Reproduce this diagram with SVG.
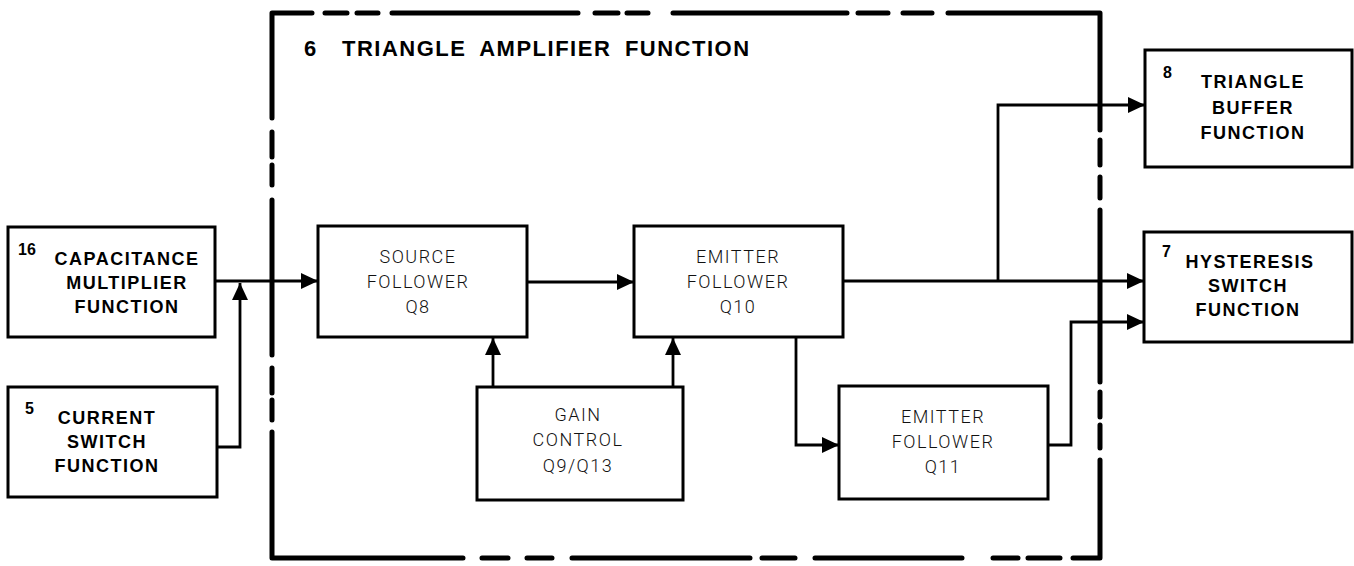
<svg xmlns="http://www.w3.org/2000/svg" width="1354" height="566" viewBox="0 0 1354 566">
<style>
.box{fill:#fff;stroke:#000;stroke-width:3}
.b{font-family:"Liberation Sans",Arial,sans-serif;font-weight:bold;font-size:18px;letter-spacing:1.5px;text-anchor:middle;fill:#000}
.n{font-family:"Liberation Sans",Arial,sans-serif;font-weight:bold;font-size:16px;fill:#000}
.l{font-family:Roboto,"Liberation Sans",Arial,sans-serif;font-weight:300;font-size:18px;letter-spacing:1.5px;text-anchor:middle;fill:#111}
.c{fill:none;stroke:#000;stroke-width:2.8}
.border{fill:none;stroke:#000;stroke-width:5;stroke-linecap:round}
.title{font-family:"Liberation Sans",Arial,sans-serif;font-weight:bold;font-size:22px;fill:#000}
</style>
<defs>
<marker id="ah" viewBox="0 0 17 16" refX="17" refY="8" markerWidth="17" markerHeight="16" markerUnits="userSpaceOnUse" orient="auto">
<path d="M0,0 L17,8 L0,16 z" fill="#000"/>
</marker>
</defs>
<rect width="1354" height="566" fill="#fff"/>
<g id="triangle-amplifier">
<path class="border" d="M272,13 V118 M272,132 V157 M272,165 V185 M272,200 V355 M272,368 V393 M272,400 V420 M272,432 V558
M1100,13 V130 M1100,140 V165 M1100,177 V198 M1100,210 V382 M1100,392 V417 M1100,425 V448 M1100,460 V558
M272,13 H312 M325,13 H347 M357,13 H378 M392,13 H578 M595,13 H618 M627,13 H648 M673,13 H847 M858,13 H888 M903,13 H932 M948,13 H1100
M272,558 H463 M482,558 H508 M527,558 H552 M572,558 H750 M762,558 H795 M815,558 H962 M993,558 H1018 M1028,558 H1060 M1073,558 H1100"/>
<text class="title" x="304" y="56">6</text>
<text class="title" x="342" y="56" style="letter-spacing:1.5px;word-spacing:6px">TRIANGLE AMPLIFIER FUNCTION</text>
</g>
<g id="capacitance-multiplier">
<rect class="box" x="8" y="227" width="207" height="110"/>
<text class="n" x="18" y="255">16</text>
<text class="b" x="127" y="265">CAPACITANCE</text>
<text class="b" x="127" y="289">MULTIPLIER</text>
<text class="b" x="127" y="313">FUNCTION</text>
</g>
<g id="current-switch">
<rect class="box" x="8" y="387" width="209" height="110"/>
<text class="n" x="25" y="414">5</text>
<text class="b" x="107" y="424">CURRENT</text>
<text class="b" x="107" y="448">SWITCH</text>
<text class="b" x="107" y="472">FUNCTION</text>
</g>
<g id="source-follower">
<rect class="box" x="318" y="226" width="209" height="111"/>
<text class="l" x="418" y="263">SOURCE</text>
<text class="l" x="418" y="288">FOLLOWER</text>
<text class="l" x="418" y="313">Q8</text>
</g>
<g id="emitter-follower-q10">
<rect class="box" x="634" y="226" width="209" height="111"/>
<text class="l" x="738" y="263">EMITTER</text>
<text class="l" x="738" y="288">FOLLOWER</text>
<text class="l" x="738" y="313">Q10</text>
</g>
<g id="gain-control">
<rect class="box" x="477" y="387" width="206" height="113"/>
<text class="l" x="578" y="421">GAIN</text>
<text class="l" x="578" y="446">CONTROL</text>
<text class="l" x="578" y="472">Q9/Q13</text>
</g>
<g id="emitter-follower-q11">
<rect class="box" x="839" y="386" width="209" height="113"/>
<text class="l" x="943" y="423">EMITTER</text>
<text class="l" x="943" y="448">FOLLOWER</text>
<text class="l" x="943" y="473">Q11</text>
</g>
<g id="triangle-buffer">
<rect class="box" x="1145" y="50" width="207" height="117"/>
<text class="n" x="1163" y="78">8</text>
<text class="b" x="1253" y="88">TRIANGLE</text>
<text class="b" x="1253" y="114">BUFFER</text>
<text class="b" x="1253" y="139">FUNCTION</text>
</g>
<g id="hysteresis-switch">
<rect class="box" x="1144" y="232" width="208" height="110"/>
<text class="n" x="1162" y="257">7</text>
<text class="b" x="1250" y="268">HYSTERESIS</text>
<text class="b" x="1248" y="292">SWITCH</text>
<text class="b" x="1248" y="316">FUNCTION</text>
</g>
<g id="connectors">
<path class="c" d="M215,281 H318" marker-end="url(#ah)"/>
<path class="c" d="M217,447 H240 V283" marker-end="url(#ah)"/>
<path class="c" d="M527,282 H634" marker-end="url(#ah)"/>
<path class="c" d="M493,387 V338" marker-end="url(#ah)"/>
<path class="c" d="M673,387 V338" marker-end="url(#ah)"/>
<path class="c" d="M796,337 V445 H839" marker-end="url(#ah)"/>
<path class="c" d="M843,281 H1144" marker-end="url(#ah)"/>
<path class="c" d="M998,281 V105 H1145" marker-end="url(#ah)"/>
<path class="c" d="M1048,445 H1071 V322 H1144" marker-end="url(#ah)"/>
</g>
</svg>
